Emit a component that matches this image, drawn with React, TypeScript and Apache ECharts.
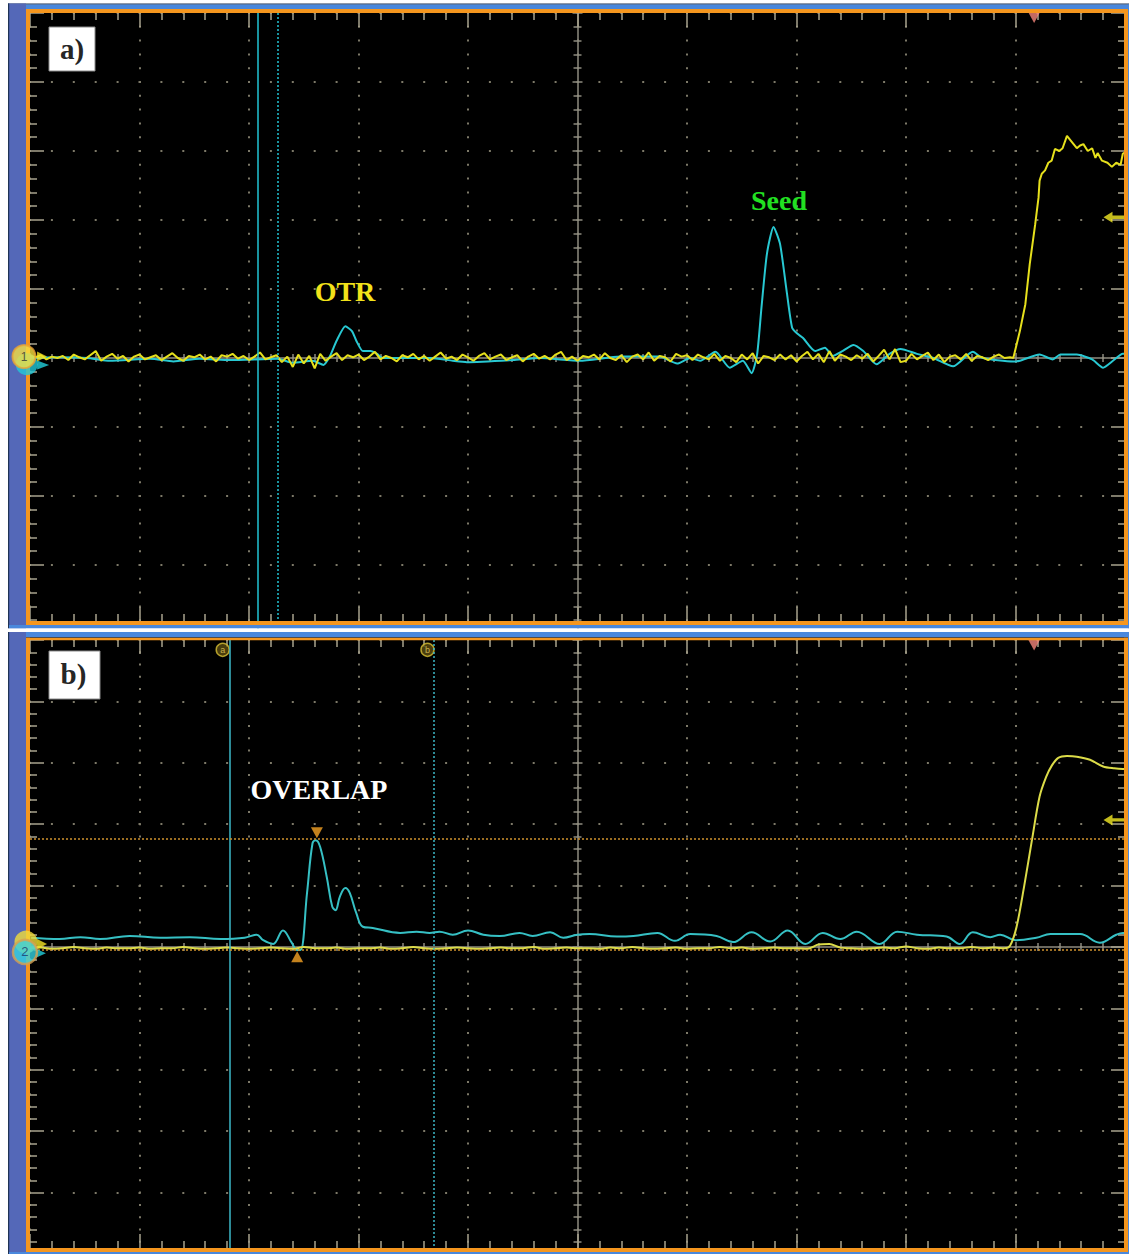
import React, { useEffect, useRef } from "react";
import * as echarts from "echarts";

type Pair = [number, number];

// ---------- Panel a) (x, y in scope divisions; y = 0 is the centre line) ----------
const stepA = 0.05;
const yellowANoise = [
  0.03, 0.01, 0.04, -0.02, 0.02, 0.0, 0.03, -0.03, 0.05, 0.01, -0.02, 0.04, 0.1, -0.04, 0.02, 0.06, -0.01, 0.03, -0.05, 0.02,
  0.05, -0.02, 0.01, 0.04, -0.03, 0.02, 0.07, 0.0, -0.04, 0.03, 0.01, 0.05, -0.02, 0.02, -0.05, 0.04, 0.02, 0.06, -0.01, 0.03,
  -0.03, 0.02, 0.08, -0.02, 0.01, 0.04, -0.06, 0.02, -0.13, 0.05, -0.08, 0.03, -0.15, 0.06, -0.04, 0.02, 0.07, -0.03, 0.04, 0.01,
  0.05, -0.03, 0.02, 0.09, -0.02, 0.03, 0.0, -0.05, 0.04, 0.01, 0.06, -0.02, 0.03, -0.04, 0.02, 0.08, -0.01, 0.02, -0.03, 0.05,
  0.01, -0.04, 0.03, 0.07, -0.02, 0.02, 0.05, -0.03, 0.01, 0.04, -0.05, 0.02, 0.06, -0.01, 0.03, -0.02, 0.05, 0.09, -0.03, 0.02,
  -0.04, 0.03, 0.01, 0.05, -0.02, 0.07, 0.0, -0.03, 0.04, -0.06, 0.02, 0.05, -0.02, 0.08, -0.04, 0.03, 0.01, -0.05, 0.06, 0.02,
  0.04, -0.03, 0.05, 0.01, -0.02, 0.06, -0.04, 0.03, 0.0, -0.06, 0.05, -0.02, 0.07, -0.08, 0.03, 0.01, -0.03, 0.05, -0.02, 0.04,
  -0.05, 0.03, 0.09, -0.02, 0.06, -0.06, 0.1, -0.04, 0.05, 0.02, -0.03, 0.04, -0.01, 0.06, -0.05, 0.03, 0.12, -0.02, 0.13, -0.06,
  -0.04, 0.06, -0.02, 0.03, 0.08, -0.03, 0.05, -0.06, 0.02, 0.04, -0.02, 0.06, -0.04, 0.03, 0.01, -0.03, 0.02, 0.05, 0.0, 0.01,
];
const yellowARise: Pair[] = [
  [8.98, 0.0], [9.04, 0.39], [9.09, 0.78], [9.13, 1.36], [9.18, 1.94], [9.21, 2.32], [9.22, 2.57], [9.24, 2.67],
  [9.27, 2.72], [9.3, 2.83], [9.33, 2.86], [9.36, 3.03], [9.4, 3.0], [9.43, 3.04], [9.47, 3.22], [9.51, 3.14],
  [9.56, 3.04], [9.59, 3.08], [9.62, 3.1], [9.66, 3.0], [9.7, 3.04], [9.73, 2.9], [9.75, 2.97], [9.79, 2.86],
  [9.84, 2.83], [9.88, 2.77], [9.92, 2.83], [9.96, 2.8], [9.98, 2.96], [10.0, 2.98],
];
const cyanA: Pair[] = [
  [0, -0.01], [0.03, 0.0], [0.27, 0.01], [0.52, 0.0], [0.73, -0.04], [1.1, -0.01], [1.31, -0.05], [1.55, -0.01],
  [1.83, -0.03], [2.26, -0.01], [2.4, -0.07], [2.58, -0.04], [2.68, -0.1], [2.74, 0.03], [2.8, 0.25], [2.88, 0.46],
  [2.94, 0.39], [2.98, 0.25], [3.04, 0.1], [3.11, 0.1], [3.17, 0.06], [3.22, 0.0], [3.65, 0.0], [3.86, -0.04],
  [3.99, -0.06], [4.41, -0.03], [4.66, 0.0], [5.02, -0.04], [5.39, 0.02], [5.75, 0.02], [5.91, -0.08], [6.03, 0.0],
  [6.12, -0.04], [6.26, 0.09], [6.39, -0.14], [6.51, -0.04], [6.59, -0.22], [6.64, 0.05], [6.68, 0.73], [6.73, 1.51],
  [6.79, 1.9], [6.85, 1.65], [6.91, 0.97], [6.96, 0.44], [7.01, 0.35], [7.06, 0.29], [7.17, 0.1], [7.26, 0.15],
  [7.33, 0.03], [7.42, 0.1], [7.52, 0.19], [7.61, 0.1], [7.73, -0.09], [7.85, 0.06], [7.95, 0.13], [8.1, 0.06],
  [8.25, 0.0], [8.43, -0.12], [8.61, 0.09], [8.7, 0.0], [8.98, -0.05], [9.04, -0.04], [9.22, 0.05], [9.34, -0.02],
  [9.41, 0.05], [9.56, 0.05], [9.7, -0.02], [9.8, -0.14], [9.89, -0.04], [9.98, 0.06], [10.0, 0.06],
];
const cursorsA = [2.08, 2.26];
const triggerXA = 9.17;
const triggerLevelA = 2.04;

// ---------- Panel b) ----------
const stepB = 0.1;
const yellowBNoise = [
  -0.02, -0.01, -0.03, -0.02, 0.0, -0.02, -0.03, -0.01, -0.02, -0.02,
  -0.01, -0.03, -0.02, -0.02, 0.0, -0.02, -0.03, -0.02, -0.01, -0.02,
  -0.03, -0.02, -0.01, -0.02, -0.03, 0.0, -0.02, -0.02, -0.01, -0.03,
  -0.02, -0.02, -0.01, -0.03, -0.02, 0.0, -0.02, -0.03, -0.02, -0.01,
  -0.02, -0.03, -0.02, -0.01, -0.02, -0.02, 0.0, -0.03, -0.02, -0.01,
  -0.02, -0.02, -0.03, -0.01, -0.02, 0.0, -0.02, -0.03, -0.02, -0.01,
  -0.03, -0.02, -0.02, 0.0, -0.02, -0.01, -0.03, -0.02, -0.01, -0.02,
  -0.02, -0.03, 0.04, 0.05, -0.01, -0.02, -0.03, -0.02, -0.01, -0.02,
  0.01, -0.02, -0.03, -0.01, -0.02, -0.02, 0.0, -0.02, -0.01, -0.02,
];
const yellowBRise: Pair[] = [
  [8.95, 0.02], [9.01, 0.33], [9.08, 1.0], [9.15, 1.74], [9.22, 2.45], [9.28, 2.77], [9.33, 2.95], [9.39, 3.08],
  [9.47, 3.11], [9.56, 3.1], [9.68, 3.05], [9.8, 2.94], [9.9, 2.91], [9.98, 2.9], [10.0, 2.9],
];
const cyanB: Pair[] = [
  [0.01, 0.15], [0.27, 0.13], [0.46, 0.16], [0.64, 0.13], [0.91, 0.18], [1.19, 0.15], [1.46, 0.16], [1.74, 0.13],
  [1.96, 0.15], [2.07, 0.2], [2.13, 0.11], [2.22, 0.05], [2.31, 0.27], [2.39, 0.07], [2.44, -0.05], [2.47, -0.05],
  [2.53, 0.88], [2.58, 1.69], [2.61, 1.74], [2.65, 1.63], [2.71, 1.14], [2.76, 0.66], [2.79, 0.6], [2.83, 0.82],
  [2.88, 0.96], [2.92, 0.88], [2.98, 0.55], [3.04, 0.33], [3.13, 0.31], [3.38, 0.23], [3.53, 0.25], [3.65, 0.23],
  [3.74, 0.25], [3.86, 0.2], [4.0, 0.27], [4.14, 0.2], [4.29, 0.18], [4.47, 0.23], [4.59, 0.18], [4.75, 0.24],
  [4.87, 0.15], [5.0, 0.2], [5.11, 0.21], [5.36, 0.17], [5.51, 0.18], [5.73, 0.23], [5.89, 0.1], [6.03, 0.21],
  [6.27, 0.18], [6.42, 0.08], [6.59, 0.24], [6.76, 0.09], [6.92, 0.27], [7.08, 0.05], [7.24, 0.23], [7.4, 0.13],
  [7.55, 0.25], [7.76, 0.05], [7.92, 0.25], [8.1, 0.2], [8.37, 0.17], [8.49, 0.05], [8.61, 0.24], [8.77, 0.16],
  [8.86, 0.2], [9.0, 0.11], [9.19, 0.15], [9.32, 0.21], [9.59, 0.21], [9.77, 0.07], [9.92, 0.2], [9.98, 0.23], [10.0, 0.23],
];
const cursorsB = [1.82, 3.69];
const hCursorsB = [1.76, -0.05];
const peakMarkB: Pair = [2.62, 1.86];
const troughMarkB: Pair = [2.44, -0.16];
const cursorLabelsB: Pair[] = [[1.76, 4.84], [3.63, 4.84]];
const triggerXB = 9.17;
const triggerLevelB = 2.07;

// ---------- styling ----------
const TICK = "#a9a38e";
const CENTER = "#8e8b7f";
const DOTS = "#7d7968";
const ORANGE = "#f5961e";
const BLUE = "#4a88dc";
const STRIP = "#5468b8";
const DARK = "#1f3355";
const SERIF = "'Liberation Serif', 'Times New Roman', serif";

const RIGHT_TRI = "path://M0,0 L10,5 L0,10 Z";
const LEFT_ARROW = "path://M0,5 L9,0 L9,3.5 L22,3.5 L22,6.5 L9,6.5 L9,10 Z";

function rect(x: number, y: number, w: number, h: number, fill: string, z = 50) {
  return { type: "rect", silent: true, z, shape: { x, y, width: w, height: h }, style: { fill } };
}
function label(text: string, x: number, y: number, fill: string, size = 28) {
  return {
    type: "text",
    silent: true,
    z: 55,
    x,
    y,
    style: {
      text,
      fill,
      fontFamily: SERIF,
      fontWeight: "bold",
      fontSize: size,
      align: "center",
      verticalAlign: "middle",
      textAlign: "center",
      textVerticalAlign: "middle",
    },
  };
}

function buildOption(top: number, divH: number, visH: number, series: any[], graphics: any[]) {
  const L = 30;
  const W = 1095;
  const H = divH * 10;
  const cx = L + W / 2;
  const cy = top + H / 2;
  const g = { outerBoundsMode: "none", containLabel: false, z: 0 };
  const grid = [
    { ...g, left: L, top, width: W, height: H },
    { ...g, left: L, top, width: W, height: visH, show: true, backgroundColor: "#000", borderWidth: 0 },
    { ...g, left: L, top: cy, width: W, height: 40 },
    { ...g, left: L, top: cy - 40, width: W, height: 40 },
    { ...g, left: cx, top, width: 40, height: H },
    { ...g, left: cx - 40, top, width: 40, height: H },
  ];
  const noLine = { show: false, onZero: false };
  const xBase = {
    type: "value", min: 0, max: 10, interval: 1, z: 1,
    axisLabel: { show: false }, axisLine: noLine, splitLine: { show: false },
  };
  const yBase = {
    type: "value", min: -5, max: 5, interval: 1, z: 1,
    axisLabel: { show: false }, axisLine: noLine, splitLine: { show: false },
  };
  const edgeTick = { show: true, inside: true, length: 14, lineStyle: { color: TICK, width: 1.5 } };
  const edgeMinor = { show: true, splitNumber: 5, length: 7, lineStyle: { color: TICK, width: 1.5 } };
  const cTick = { show: true, inside: true, length: 5, lineStyle: { color: CENTER, width: 1.5 } };
  const cMinor = { show: true, splitNumber: 5, length: 4, lineStyle: { color: CENTER, width: 1.5 } };
  const cLine = { show: true, onZero: false, lineStyle: { color: CENTER, width: 1.5 } };
  const xAxis = [
    {
      ...xBase, gridIndex: 0, position: "top", axisTick: edgeTick, minorTick: edgeMinor,
      splitLine: { show: true, lineStyle: { color: DOTS, width: 2, type: [2, divH / 5 - 2], dashOffset: 1 } },
    },
    { ...xBase, gridIndex: 1, position: "bottom", axisTick: edgeTick, minorTick: edgeMinor },
    { ...xBase, gridIndex: 2, position: "top", axisLine: cLine, axisTick: cTick, minorTick: cMinor },
    { ...xBase, gridIndex: 3, position: "bottom", axisTick: cTick, minorTick: cMinor },
    { ...xBase, gridIndex: 4, show: false },
    { ...xBase, gridIndex: 5, show: false },
  ];
  const yAxis = [
    {
      ...yBase, gridIndex: 0, position: "left", axisTick: edgeTick, minorTick: edgeMinor,
      splitLine: { show: true, lineStyle: { color: DOTS, width: 2, type: [2, W / 50 - 2], dashOffset: 1 } },
    },
    { ...yBase, gridIndex: 0, position: "right", axisTick: edgeTick, minorTick: edgeMinor },
    { ...yBase, gridIndex: 1, show: false },
    { ...yBase, gridIndex: 2, show: false },
    { ...yBase, gridIndex: 3, show: false },
    { ...yBase, gridIndex: 4, position: "left", axisLine: cLine, axisTick: cTick, minorTick: cMinor },
    { ...yBase, gridIndex: 5, position: "right", axisTick: cTick, minorTick: cMinor },
  ];
  return {
    animation: false,
    backgroundColor: "#ffffff",
    grid,
    xAxis,
    yAxis,
    series,
    graphic: { elements: graphics },
  };
}

function traceSeries(name: string, data: Pair[], color: string, smooth: number, markLine?: any) {
  return {
    name,
    type: "line",
    xAxisIndex: 0,
    yAxisIndex: 0,
    data,
    showSymbol: false,
    symbol: "none",
    smooth,
    z: 3,
    lineStyle: { color, width: 2 },
    markLine,
  };
}

function vCursor(x: number, dotted: boolean, color: string) {
  return { xAxis: x, lineStyle: { color, width: 1.5, type: dotted ? [2, 2] : "solid" } };
}

function markerSeries(data: any[], clip = true, z = 4) {
  return { type: "scatter", xAxisIndex: 0, yAxisIndex: 0, clip, z, data, silent: true };
}

function optionA() {
  const yellow: Pair[] = yellowANoise.map((v, i) => [i * stepA, v] as Pair).concat(yellowARise);
  const series = [
    traceSeries("cyan", cyanA, "#28c8d2", 0.2, {
      silent: true, symbol: ["none", "none"], label: { show: false },
      data: [vCursor(cursorsA[0], false, "#22c4d4"), vCursor(cursorsA[1], true, "#22c4d4")],
    }),
    traceSeries("yellow", yellow, "#e6e01c", 0),
    markerSeries([
      { value: [triggerXA, 4.935], symbol: "triangle", symbolRotate: 180, symbolSize: [12, 11], itemStyle: { color: "#f2857a" } },
      { value: [9.904, triggerLevelA], symbol: LEFT_ARROW, symbolSize: [22, 11], itemStyle: { color: "#f4ea24" } },
    ]),
    markerSeries([
      { value: [-0.03, -0.09], symbol: "circle", symbolSize: 22, itemStyle: { color: "#22c8d8" } },
      { value: [0.12, -0.1], symbol: RIGHT_TRI, symbolSize: [12, 9], itemStyle: { color: "#22d0dc" } },
      {
        value: [-0.055, 0.02], symbol: "circle", symbolSize: 23,
        itemStyle: { color: "#f6e040", borderColor: "#eaa434", borderWidth: 2 },
        label: { show: true, position: "inside", formatter: "1", color: "#333", fontSize: 12 },
      },
      { value: [0.11, 0.02], symbol: RIGHT_TRI, symbolSize: [10, 10], itemStyle: { color: "#f4e424" } },
    ], false, 60),
  ];
  const graphics = [
    rect(8, 3.5, 1121, 1.2, DARK),
    rect(8, 4.5, 1121, 5, BLUE),
    rect(8, 3.5, 18, 625, STRIP),
    rect(8, 3.5, 1.2, 625, DARK),
    rect(26, 9, 1102, 4, ORANGE),
    rect(26, 9, 4, 616, ORANGE),
    rect(1124, 9, 4, 616, ORANGE),
    rect(1128, 4.5, 1, 624, BLUE),
    rect(26, 621, 1102, 4, ORANGE),
    rect(9, 625, 1120, 3.5, BLUE),
    rect(0, 628.5, 1129, 120, "#ffffff"),
    { type: "rect", silent: true, z: 54, shape: { x: 49, y: 27, width: 46, height: 44 }, style: { fill: "#ffffff", stroke: "#8a8a8a", lineWidth: 1 } },
    label("a)", 72, 49, "#262626", 29),
    label("OTR", 345, 291, "#f2e21a"),
    label("Seed", 779, 200, "#22e022"),
  ];
  return buildOption(13, 69, 608, series, graphics);
}

function optionB() {
  const yellow: Pair[] = yellowBNoise.map((v, i) => [i * stepB, v] as Pair).concat(yellowBRise);
  const series = [
    traceSeries("cyan", cyanB, "#36c0c4", 0.4, {
      silent: true, symbol: ["none", "none"], label: { show: false },
      data: [
        vCursor(cursorsB[0], false, "#3cb8c8"),
        vCursor(cursorsB[1], true, "#3cb8c8"),
        { yAxis: hCursorsB[0], lineStyle: { color: "#d0922e", width: 1.5, type: [2, 2] } },
        { yAxis: hCursorsB[1], lineStyle: { color: "#d0922e", width: 1.5, type: [2, 2] } },
      ],
    }),
    traceSeries("yellow", yellow, "#dcdc48", 0.3),
    markerSeries([
      { value: [triggerXB, 4.92], symbol: "triangle", symbolRotate: 180, symbolSize: [12, 11], itemStyle: { color: "#f2857a" } },
      { value: [9.904, triggerLevelB], symbol: LEFT_ARROW, symbolSize: [22, 11], itemStyle: { color: "#f4ea24" } },
      { value: peakMarkB, symbol: "triangle", symbolRotate: 180, symbolSize: [12, 11], itemStyle: { color: "#f5a224" } },
      { value: troughMarkB, symbol: "triangle", symbolSize: [12, 11], itemStyle: { color: "#f5a224" } },
      ...cursorLabelsB.map((p, i) => ({
        value: p, symbol: "circle", symbolSize: 13,
        itemStyle: { color: "#5c4c10", borderColor: "#d8c034", borderWidth: 1.5 },
        label: { show: true, position: "inside", formatter: i === 0 ? "a" : "b", color: "#e8d060", fontSize: 9 },
      })),
    ]),
    markerSeries([
      { value: [-0.037, 0.08], symbol: "circle", symbolSize: 23, itemStyle: { color: "#f0dc3a" } },
      { value: [0.11, 0.05], symbol: RIGHT_TRI, symbolSize: [10, 10], itemStyle: { color: "#f4e424" } },
      { value: [0.1, -0.1], symbol: RIGHT_TRI, symbolSize: [10, 9], itemStyle: { color: "#22d0dc" } },
      {
        value: [-0.046, -0.08], symbol: "circle", symbolSize: 24,
        itemStyle: { color: "#34d2e0", borderColor: "#d8a050", borderWidth: 2.5 },
        label: { show: true, position: "inside", formatter: "2", color: "#1c3a6a", fontSize: 13 },
      },
    ], false, 60),
  ];
  const graphics = [
    rect(8, 0, 1121, 5, BLUE),
    rect(8, 5, 1121, 1.2, DARK),
    rect(8, 0, 18, 622, STRIP),
    rect(8, 0, 1.2, 622, DARK),
    rect(26, 5.8, 1102, 2.4, ORANGE),
    rect(26, 5.8, 4, 614, ORANGE),
    rect(1124, 5.8, 4, 614, ORANGE),
    rect(1128, 0, 1, 622, BLUE),
    rect(26, 616, 1102, 4, ORANGE),
    rect(9, 620, 1120, 2, BLUE),
    { type: "rect", silent: true, z: 54, shape: { x: 49, y: 19, width: 51, height: 48 }, style: { fill: "#ffffff", stroke: "#8a8a8a", lineWidth: 1 } },
    label("b)", 73.5, 42, "#262626", 29),
    label("OVERLAP", 319, 157, "#ffffff"),
  ];
  return buildOption(8, 61.4, 608, series, graphics);
}

export default function App() {
  const refA = useRef<HTMLDivElement>(null);
  const refB = useRef<HTMLDivElement>(null);
  useEffect(() => {
    const a = echarts.init(refA.current!, null, { renderer: "svg" });
    a.setOption(optionA() as any);
    const b = echarts.init(refB.current!, null, { renderer: "svg" });
    b.setOption(optionB() as any);
    return () => {
      a.dispose();
      b.dispose();
    };
  }, []);
  return (
    <div style={{ position: "absolute", left: 0, top: 0, width: 1129, height: 1254, background: "#fff", overflow: "hidden" }}>
      <div style={{ position: "absolute", left: 0, top: 0, width: 1129, height: 632, overflow: "hidden" }}>
        <div ref={refA} style={{ width: 1129, height: 720 }} />
      </div>
      <div ref={refB} style={{ position: "absolute", left: 0, top: 632, width: 1129, height: 622 }} />
    </div>
  );
}
